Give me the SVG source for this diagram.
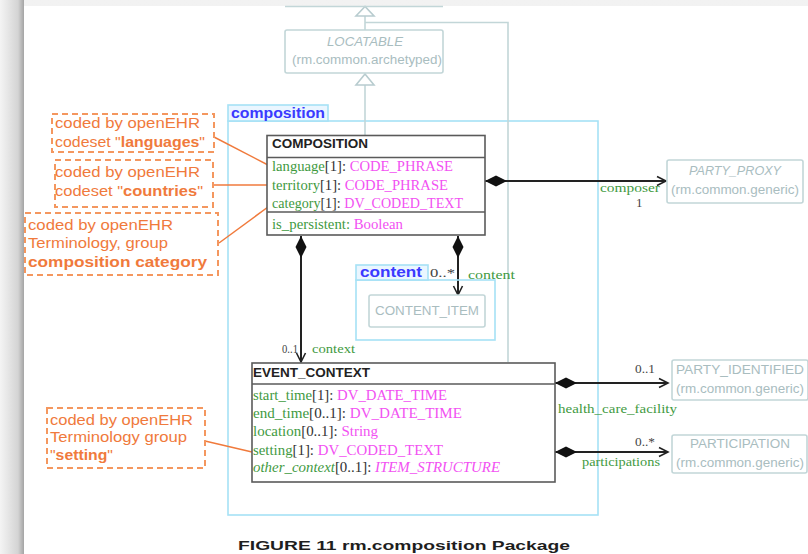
<svg xmlns="http://www.w3.org/2000/svg" width="808" height="554" viewBox="0 0 808 554">
<defs>
<linearGradient id="lband" x1="0" y1="0" x2="1" y2="0">
<stop offset="0" stop-color="#f4f4f4"/><stop offset="0.75" stop-color="#d4d4d4"/><stop offset="1" stop-color="#a4a4a4"/>
</linearGradient>
<linearGradient id="tband" x1="0" y1="0" x2="0" y2="1">
<stop offset="0" stop-color="#f2f2f2"/><stop offset="1" stop-color="#e2e2e2"/>
</linearGradient>
<marker id="dia" markerUnits="userSpaceOnUse" markerWidth="24" markerHeight="12" refX="0" refY="6" orient="auto" viewBox="0 0 24 12">
<path d="M0,6 L11,0.5 L22,6 L11,11.5 Z" fill="#111"/>
</marker>
<marker id="arr" markerUnits="userSpaceOnUse" markerWidth="12" markerHeight="12" refX="10" refY="6" orient="auto" viewBox="0 0 12 12">
<path d="M1,1.5 L10,6 L1,10.5" fill="none" stroke="#222" stroke-width="1.6"/>
</marker>
</defs>
<style>
.cls{fill:#fff;stroke:#5a5a5a;stroke-width:1.6}
.div{stroke:#5a5a5a;stroke-width:1.6}
.ext{fill:#fff;stroke:#c2d6d8;stroke-width:1.6}
.extt{font-family:"Liberation Sans",Arial,sans-serif;font-size:12px;fill:#a9bdbf;text-anchor:middle}
.note{fill:none;stroke:#f4975f;stroke-width:2;stroke-dasharray:6 4}
.notet{font-family:"Liberation Sans",Arial,sans-serif;font-size:15px;fill:#f07a3c}
.nl{stroke:#f07a3c;stroke-width:1.5;fill:none}
.pkg{fill:none;stroke:#a6e2f6;stroke-width:1.6}
.tab{fill:#eaf6ff;stroke:#a6e2f6;stroke-width:1.6}
.tabt{font-family:"Liberation Sans",Arial,sans-serif;font-size:14px;font-weight:bold;fill:#3a3aff}
.hd{font-family:"Liberation Sans",Arial,sans-serif;font-size:12px;font-weight:bold;fill:#222}
.attr{font-family:"Liberation Serif","Times New Roman",serif;font-size:14px}
.an{fill:#3f9a3f}.mt{fill:#333}.ty{fill:#f251f2}
.as{stroke:#222;stroke-width:2;fill:none}
.gen{stroke:#c2d6d8;stroke-width:1.6;fill:none}
.tri{stroke:#b8cccf;stroke-width:1.6;fill:#fff}
.lg{font-family:"Liberation Serif","Times New Roman",serif;font-size:13px;fill:#3f9a3f}
.lm{font-family:"Liberation Serif","Times New Roman",serif;font-size:13px;fill:#444}
</style>
<rect x="0" y="0" width="808" height="554" fill="url(#tband)"/>
<rect x="0" y="0" width="24" height="554" fill="url(#lband)"/>
<rect x="24" y="6" width="784" height="548" fill="#fff"/>

<g id="pkg-composition">
<rect class="pkg" x="228" y="121" width="370" height="394"/>
<rect class="tab" x="228" y="105" width="100" height="16"/>
<text class="tabt" x="231" y="118" textLength="94" lengthAdjust="spacingAndGlyphs">composition</text>
</g>

<g id="connectors">
<line class="gen" x1="365" y1="16" x2="365" y2="30"/>
<polyline class="gen" points="508,362 508,22.5 365,22.5"/>
<line class="gen" x1="365" y1="85" x2="365" y2="136"/>
<polygon class="tri" points="365,6.5 356,16 374,16"/>
<polygon class="tri" points="365,74 356,85 374,85"/>
<line class="as" x1="485" y1="181" x2="666" y2="181" marker-start="url(#dia)" marker-end="url(#arr)"/>
<line class="as" x1="301" y1="236" x2="301" y2="362" marker-start="url(#dia)" marker-end="url(#arr)"/>
<line class="as" x1="458" y1="236" x2="458" y2="295" marker-start="url(#dia)" marker-end="url(#arr)"/>
<line class="as" x1="555" y1="383" x2="668" y2="383" marker-start="url(#dia)" marker-end="url(#arr)"/>
<line class="as" x1="555" y1="452" x2="668" y2="452" marker-start="url(#dia)" marker-end="url(#arr)"/>
<text class="lg" x="600" y="192" textLength="60" lengthAdjust="spacingAndGlyphs">composer</text>
<text class="lm" x="636" y="207">1</text>
<text class="lm" x="282" y="353" textLength="16" lengthAdjust="spacingAndGlyphs">0..1</text>
<text class="lg" x="312" y="353" textLength="43" lengthAdjust="spacingAndGlyphs">context</text>
<text class="lm" x="430" y="277" textLength="25" lengthAdjust="spacingAndGlyphs">0..*</text>
<text class="lg" x="468" y="279" textLength="47" lengthAdjust="spacingAndGlyphs">content</text>
<text class="lm" x="635" y="373" textLength="20" lengthAdjust="spacingAndGlyphs">0..1</text>
<text class="lg" x="558" y="413" textLength="119" lengthAdjust="spacingAndGlyphs">health_care_facility</text>
<text class="lm" x="635" y="446" textLength="20" lengthAdjust="spacingAndGlyphs">0..*</text>
<text class="lg" x="582" y="466" textLength="78" lengthAdjust="spacingAndGlyphs">participations</text>
<polyline class="nl" points="214,137 268,165"/>
<line class="nl" x1="213" y1="185" x2="268" y2="185"/>
<polyline class="nl" points="219,243 268,207"/>
<polyline class="nl" points="205,441 252,452"/>
</g>

<g id="top-class">
<line class="gen" x1="285" y1="6.5" x2="443" y2="6.5"/>
</g>

<g id="LOCATABLE">
<rect class="ext" x="285" y="30" width="158" height="43" rx="2"/>
<text class="extt" x="365" y="46" font-style="italic" textLength="76" lengthAdjust="spacingAndGlyphs">LOCATABLE</text>
<text class="extt" x="367" y="64" textLength="150" lengthAdjust="spacingAndGlyphs">(rm.common.archetyped)</text>
</g>

<g id="COMPOSITION">
<rect class="cls" x="267" y="135.5" width="218" height="99.5"/>
<line class="div" x1="267" y1="157.5" x2="485" y2="157.5"/>
<line class="div" x1="267" y1="212" x2="485" y2="212"/>
<text class="hd" x="272" y="148" textLength="96" lengthAdjust="spacingAndGlyphs">COMPOSITION</text>
<text class="attr" x="272" y="171" textLength="181" lengthAdjust="spacingAndGlyphs"><tspan class="an">language</tspan><tspan class="mt">[1]: </tspan><tspan class="ty">CODE_PHRASE</tspan></text>
<text class="attr" x="272" y="190" textLength="176" lengthAdjust="spacingAndGlyphs"><tspan class="an">territory</tspan><tspan class="mt">[1]: </tspan><tspan class="ty">CODE_PHRASE</tspan></text>
<text class="attr" x="272" y="208" textLength="191" lengthAdjust="spacingAndGlyphs"><tspan class="an">category</tspan><tspan class="mt">[1]: </tspan><tspan class="ty">DV_CODED_TEXT</tspan></text>
<text class="attr" x="272" y="229" textLength="131" lengthAdjust="spacingAndGlyphs"><tspan class="an">is_persistent: </tspan><tspan class="ty">Boolean</tspan></text>
</g>

<g id="PARTY_PROXY">
<rect class="ext" x="667" y="160" width="136" height="43" rx="2"/>
<text class="extt" x="735" y="175" font-style="italic" textLength="92" lengthAdjust="spacingAndGlyphs">PARTY_PROXY</text>
<text class="extt" x="735" y="194" textLength="128" lengthAdjust="spacingAndGlyphs">(rm.common.generic)</text>
</g>

<g id="pkg-content">
<rect class="pkg" x="356" y="280" width="139" height="60"/>
<rect class="tab" x="356" y="265" width="72" height="15"/>
<text class="tabt" x="360" y="277" textLength="62" lengthAdjust="spacingAndGlyphs">content</text>
</g>

<g id="CONTENT_ITEM">
<rect class="ext" x="369" y="295" width="116" height="32" rx="2"/>
<text class="extt" x="427" y="315" textLength="104" lengthAdjust="spacingAndGlyphs">CONTENT_ITEM</text>
</g>

<g id="EVENT_CONTEXT">
<rect class="cls" x="252" y="363" width="303" height="119"/>
<line class="div" x1="252" y1="384" x2="555" y2="384"/>
<text class="hd" x="253" y="377" textLength="117" lengthAdjust="spacingAndGlyphs">EVENT_CONTEXT</text>
<text class="attr" x="253" y="400" textLength="194" lengthAdjust="spacingAndGlyphs"><tspan class="an">start_time</tspan><tspan class="mt">[1]: </tspan><tspan class="ty">DV_DATE_TIME</tspan></text>
<text class="attr" x="253" y="418" textLength="209" lengthAdjust="spacingAndGlyphs"><tspan class="an">end_time</tspan><tspan class="mt">[0..1]: </tspan><tspan class="ty">DV_DATE_TIME</tspan></text>
<text class="attr" x="253" y="436" textLength="125" lengthAdjust="spacingAndGlyphs"><tspan class="an">location</tspan><tspan class="mt">[0..1]: </tspan><tspan class="ty">String</tspan></text>
<text class="attr" x="253" y="455" textLength="190" lengthAdjust="spacingAndGlyphs"><tspan class="an">setting</tspan><tspan class="mt">[1]: </tspan><tspan class="ty">DV_CODED_TEXT</tspan></text>
<text class="attr" x="253" y="472" font-style="italic" textLength="247" lengthAdjust="spacingAndGlyphs"><tspan class="an">other_context</tspan><tspan class="mt" font-style="normal">[0..1]: </tspan><tspan class="ty">ITEM_STRUCTURE</tspan></text>
</g>

<g id="PARTY_IDENTIFIED">
<rect class="ext" x="672" y="360" width="136" height="40" rx="2"/>
<text class="extt" x="740" y="374" textLength="128" lengthAdjust="spacingAndGlyphs">PARTY_IDENTIFIED</text>
<text class="extt" x="740" y="393" textLength="128" lengthAdjust="spacingAndGlyphs">(rm.common.generic)</text>
</g>

<g id="PARTICIPATION">
<rect class="ext" x="672" y="435" width="135" height="38" rx="2"/>
<text class="extt" x="740" y="448" textLength="100" lengthAdjust="spacingAndGlyphs">PARTICIPATION</text>
<text class="extt" x="740" y="467" textLength="128" lengthAdjust="spacingAndGlyphs">(rm.common.generic)</text>
</g>

<g id="note-languages">
<rect class="note" x="52" y="114" width="162" height="38"/>
<text class="notet" x="55" y="128" textLength="145" lengthAdjust="spacingAndGlyphs">coded by openEHR</text>
<text class="notet" x="55" y="147" textLength="150" lengthAdjust="spacingAndGlyphs">codeset "<tspan font-weight="bold">languages</tspan>"</text>
</g>

<g id="note-countries">
<rect class="note" x="55" y="160" width="158" height="47"/>
<text class="notet" x="55" y="177" textLength="145" lengthAdjust="spacingAndGlyphs">coded by openEHR</text>
<text class="notet" x="55" y="196" textLength="148" lengthAdjust="spacingAndGlyphs">codeset "<tspan font-weight="bold">countries</tspan>"</text>
</g>

<g id="note-category">
<rect class="note" x="25" y="213" width="193" height="62"/>
<text class="notet" x="28" y="230" textLength="145" lengthAdjust="spacingAndGlyphs">coded by openEHR</text>
<text class="notet" x="28" y="248" textLength="140" lengthAdjust="spacingAndGlyphs">Terminology, group</text>
<text class="notet" x="28" y="267" font-weight="bold" textLength="179" lengthAdjust="spacingAndGlyphs">composition category</text>
</g>

<g id="note-setting">
<rect class="note" x="47" y="408" width="158" height="60"/>
<text class="notet" x="50" y="425" textLength="143" lengthAdjust="spacingAndGlyphs">coded by openEHR</text>
<text class="notet" x="50" y="442" textLength="137" lengthAdjust="spacingAndGlyphs">Terminology group</text>
<text class="notet" x="50" y="460" textLength="63" lengthAdjust="spacingAndGlyphs">"<tspan font-weight="bold">setting</tspan>"</text>
</g>

<text x="238" y="550" font-family="'Liberation Sans',Arial,sans-serif" font-size="13" font-weight="bold" fill="#1e1e1e" textLength="332" lengthAdjust="spacingAndGlyphs">FIGURE 11 rm.composition Package</text>
</svg>
